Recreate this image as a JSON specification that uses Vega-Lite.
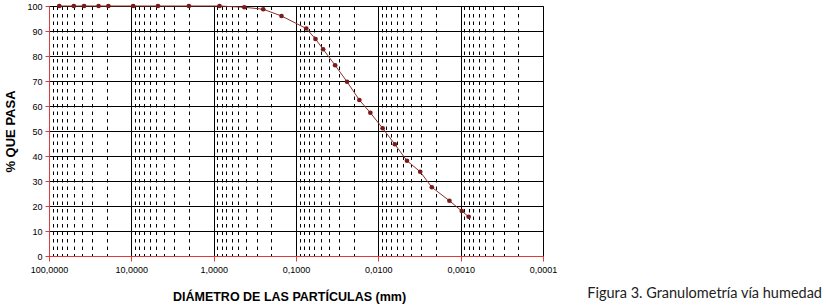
{
  "$schema": "https://vega.github.io/schema/vega-lite/v6.json",
  "width": 494,
  "height": 250,
  "autosize": "none",
  "padding": {"left": 49, "top": 6, "right": 283, "bottom": 52},
  "background": "white",
  "view": {"stroke": "#2a3f9a", "strokeWidth": 1},
  "config": {"font": "Liberation Sans"},
  "title": {
    "text": "Figura 3. Granulometría vía humedad",
    "orient": "bottom",
    "anchor": "end",
    "frame": "group",
    "dx": 279,
    "offset": -16,
    "font": "Lato",
    "fontSize": 14.5,
    "fontWeight": "normal",
    "color": "#222222"
  },
  "data": {
    "values": [
      {"d": 75, "p": 100},
      {"d": 50, "p": 100},
      {"d": 37.5, "p": 100},
      {"d": 25, "p": 100},
      {"d": 19, "p": 100},
      {"d": 9.5, "p": 100},
      {"d": 4.75, "p": 100},
      {"d": 2.0, "p": 100},
      {"d": 0.85, "p": 100},
      {"d": 0.425, "p": 99.5},
      {"d": 0.25, "p": 98.7},
      {"d": 0.15, "p": 96},
      {"d": 0.075, "p": 91},
      {"d": 0.058, "p": 86.8},
      {"d": 0.0468, "p": 82.7},
      {"d": 0.0335, "p": 76.3},
      {"d": 0.024, "p": 69.7},
      {"d": 0.017, "p": 62.4},
      {"d": 0.0125, "p": 57.3},
      {"d": 0.00887, "p": 51.1},
      {"d": 0.0063, "p": 44.7},
      {"d": 0.00449, "p": 38.1},
      {"d": 0.0031, "p": 33.7},
      {"d": 0.00224, "p": 27.5},
      {"d": 0.00137, "p": 22.1},
      {"d": 0.00097, "p": 18},
      {"d": 0.0008, "p": 15.7}
    ]
  },
  "encoding": {
    "x": {
      "field": "d",
      "type": "quantitative",
      "scale": {"type": "log", "domain": [0.0001, 100], "reverse": true, "nice": false},
      "axis": {
        "values": [0.0001, 0.0002, 0.0003, 0.0004, 0.0005, 0.0006, 0.0007, 0.0008, 0.0009,
                   0.001, 0.002, 0.003, 0.004, 0.005, 0.006, 0.007, 0.008, 0.009,
                   0.01, 0.02, 0.03, 0.04, 0.05, 0.06, 0.07, 0.08, 0.09,
                   0.1, 0.2, 0.3, 0.4, 0.5, 0.6, 0.7, 0.8, 0.9,
                   1, 2, 3, 4, 5, 6, 7, 8, 9,
                   10, 20, 30, 40, 50, 60, 70, 80, 90, 100],
        "grid": true,
        "gridColor": "#000000",
        "gridOpacity": 1,
        "gridWidth": 1,
        "gridDash": {
          "condition": {"test": "abs(log(datum.value)/LN10 - round(log(datum.value)/LN10)) < 0.001", "value": []},
          "value": [3.5, 4]
        },
        "tickColor": "#e03a3a",
        "tickSize": 5,
        "tickOpacity": {
          "condition": {"test": "abs(log(datum.value)/LN10 - round(log(datum.value)/LN10)) < 0.001", "value": 1},
          "value": 0
        },
        "domainColor": "#e03a3a",
        "labelExpr": "abs(log(datum.value)/LN10 - round(log(datum.value)/LN10)) < 0.001 ? replace(format(datum.value, '.4f'), '.', ',') : ''",
        "labelFontSize": 9,
        "labelColor": "#000000",
        "labelPadding": 4,
        "labelOverlap": false,
        "labelFlush": false,
        "title": "DIÁMETRO DE LAS PARTÍCULAS (mm)",
        "titleFontSize": 12.5,
        "titleFontWeight": "bold",
        "titleColor": "#000000",
        "titlePadding": 16,
        "titleX": 240
      }
    },
    "y": {
      "field": "p",
      "type": "quantitative",
      "scale": {"domain": [0, 100], "nice": false},
      "axis": {
        "values": [0, 10, 20, 30, 40, 50, 60, 70, 80, 90, 100],
        "grid": true,
        "gridColor": "#000000",
        "gridOpacity": 1,
        "gridWidth": 1,
        "tickColor": "#e03a3a",
        "tickSize": 4,
        "domainColor": "#e03a3a",
        "labelFontSize": 9,
        "labelColor": "#000000",
        "labelPadding": 3,
        "title": "% QUE PASA",
        "titleFontSize": 13,
        "titleFontWeight": "bold",
        "titleColor": "#000000",
        "titlePadding": 9
      }
    }
  },
  "layer": [
    {"mark": {"type": "line", "color": "#8c2f2f", "strokeWidth": 1}},
    {"mark": {"type": "point", "filled": true, "color": "#7a1a1a", "size": 22, "opacity": 1}}
  ]
}
